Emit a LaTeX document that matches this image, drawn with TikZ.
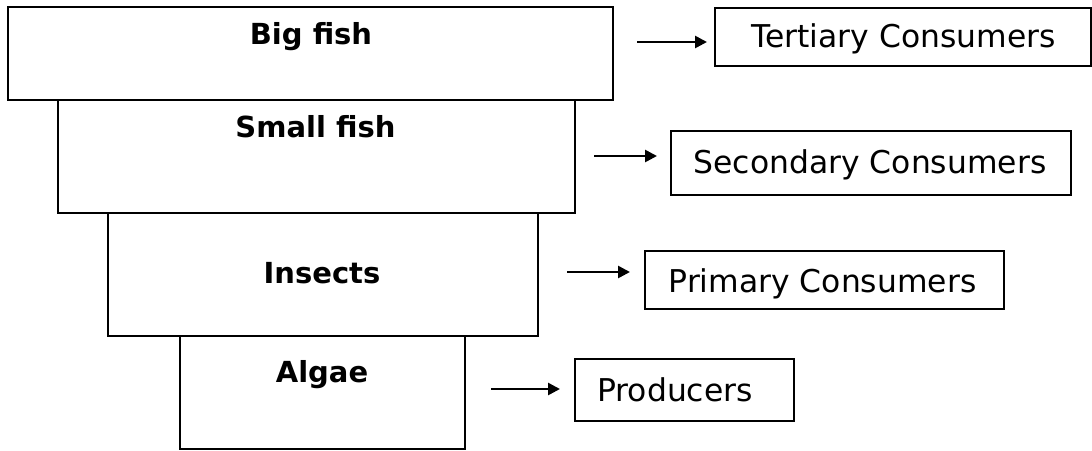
\documentclass[tikz,border=0pt]{standalone}
\usepackage{fontspec}
\setmainfont{DejaVu Sans}
\usetikzlibrary{arrows.meta}
\begin{document}
\begin{tikzpicture}[x=0.5pt,y=-0.5pt,
  level/.style={draw,line width=1pt,inner sep=0pt,anchor=north west},
  lvltext/.style={inner sep=0pt,anchor=base,font=\fontsize{14.5}{17}\selectfont\bfseries},
  rolebox/.style={draw,line width=0.9pt,inner sep=0pt,anchor=north west},
  roletext/.style={inner sep=0pt,anchor=base,font=\fontsize{15.7}{18}\selectfont},
  arr/.style={-{Triangle[length=6pt,width=6pt]},line width=1.3pt}]
\useasboundingbox (0,0) rectangle (1092,450);
% pyramid levels
\node[level,minimum width=302.5pt,minimum height=46.5pt] (big) at (7,6) {};
\node[level,minimum width=258.5pt,minimum height=56.5pt] (small) at (57,99) {};
\node[level,minimum width=215pt,minimum height=61.5pt] (ins) at (107,212) {};
\node[level,minimum width=142.5pt,minimum height=56.5pt] (alg) at (179,335) {};
\node[lvltext] (bigt) at (311,44) {Big fish};
\node[lvltext] (smallt) at (315.5,137) {Small fish};
\node[lvltext] (inst) at (322,283) {Insects};
\node[lvltext] (algt) at (322,382) {Algae};
% role boxes
\node[rolebox,minimum width=188pt,minimum height=29pt] (tert) at (714,7) {};
\node[rolebox,minimum width=200pt,minimum height=32pt] (sec) at (670,130) {};
\node[rolebox,minimum width=179.5pt,minimum height=29pt] (prim) at (644,250) {};
\node[rolebox,minimum width=109.5pt,minimum height=31pt] (prod) at (574,358) {};
\node[roletext] (tertt) at (903.5,47) {Tertiary Consumers};
\node[roletext] (sect) at (870,173) {Secondary Consumers};
\node[roletext] (primt) at (822.5,292) {Primary Consumers};
\node[roletext] (prodt) at (675,401) {Producers};
% arrows
\coordinate (a1s) at (637,42); \coordinate (a1e) at (707,42);
\coordinate (a2s) at (594,156); \coordinate (a2e) at (657,156);
\coordinate (a3s) at (567,272); \coordinate (a3e) at (630,272);
\coordinate (a4s) at (491,389); \coordinate (a4e) at (560,389);
\draw[arr] (a1s) -- (a1e);
\draw[arr] (a2s) -- (a2e);
\draw[arr] (a3s) -- (a3e);
\draw[arr] (a4s) -- (a4e);
\end{tikzpicture}
\end{document}
